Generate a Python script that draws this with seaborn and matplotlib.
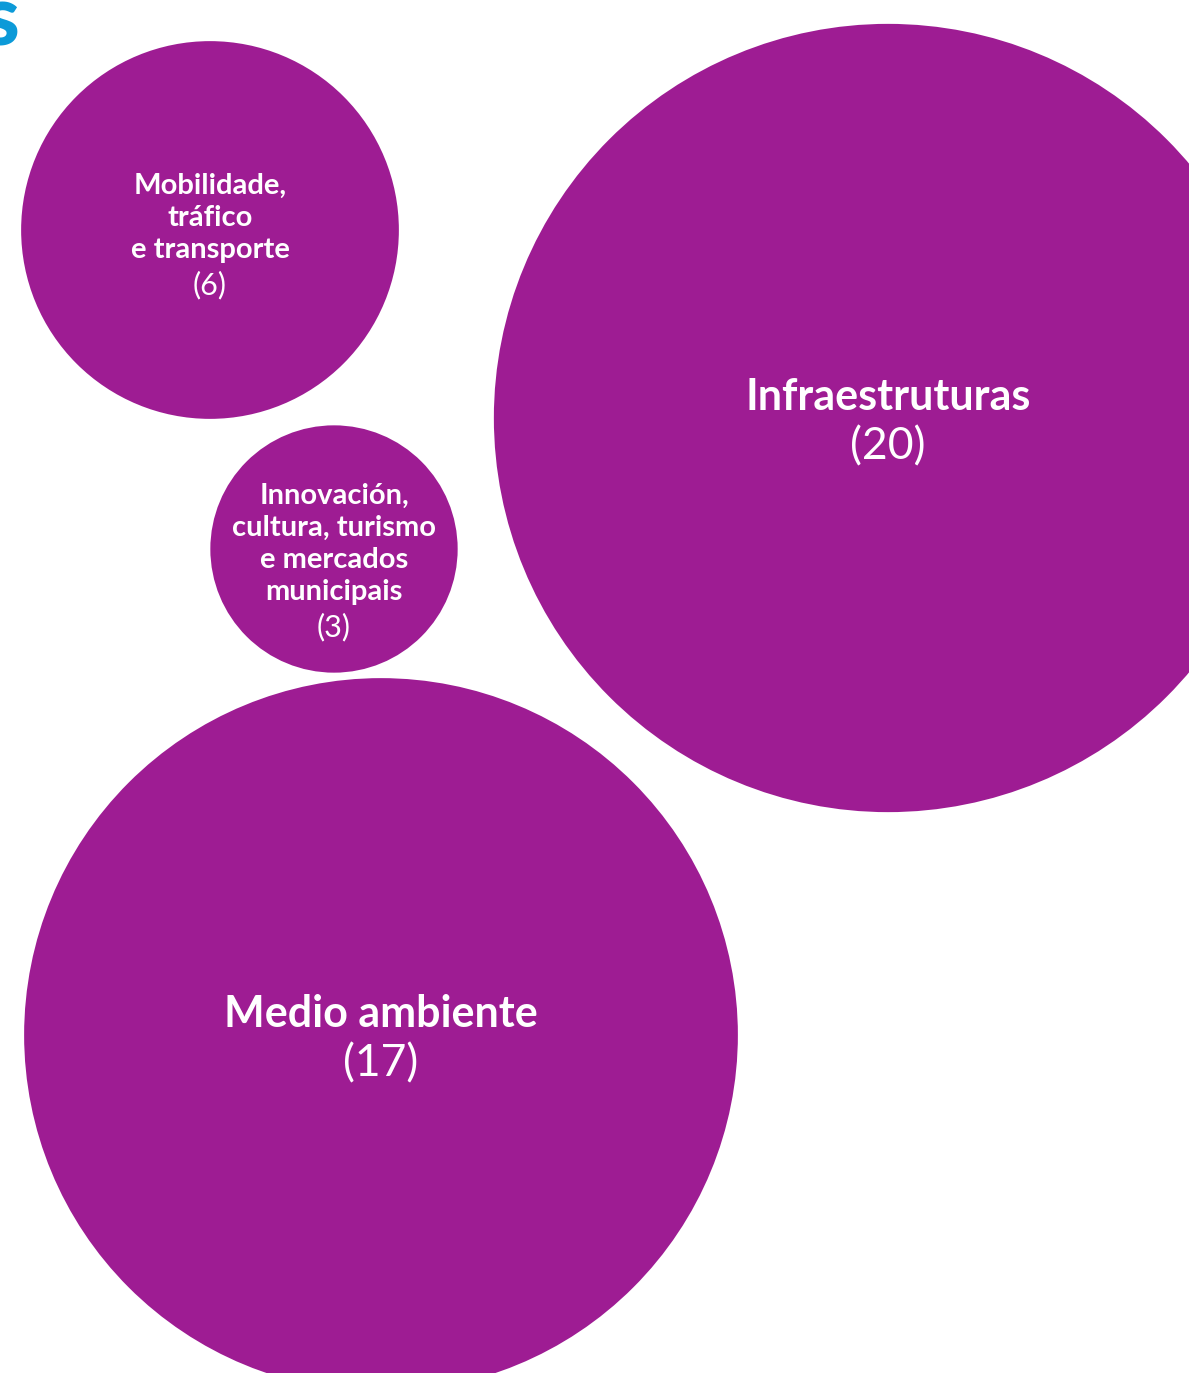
"""
Burbullas de propostas por area tematica
"""

import matplotlib.pyplot as plt
from matplotlib.patches import Circle
import seaborn as sns

# Datos
areas = ['Mobilidade,\ntráfico\ne transporte',
         'Innovación,\ncultura, turismo\ne mercados\nmunicipais',
         'Infraestruturas',
         'Medio ambiente']
propostas = [6, 3, 20, 17]

# Disposicion das burbullas (centros en pixeles da figura)
centros = [(210, 230), (334, 549), (888, 418), (381, 1035)]

# Escala de radio: r = k * v^p
K_RADIO = 63.2
P_RADIO = 0.611

MORADO = '#9E1C93'
AZUL = '#0C9AD8'
W, H = 1189, 1373

sns.set_style("white")
plt.rcParams['font.family'] = ['Lato', 'DejaVu Sans']

fig = plt.figure(figsize=(W / 100, H / 100), dpi=100)
ax = fig.add_axes([0, 0, 1, 1])
ax.set_xlim(0, W)
ax.set_ylim(H, 0)
ax.set_aspect('equal')
ax.axis('off')

for nome, valor, (cx, cy) in zip(areas, propostas, centros):
    r = K_RADIO * valor ** P_RADIO
    ax.add_patch(Circle((cx, cy), r, facecolor=MORADO, edgecolor='none'))

    liñas = nome.split('\n')
    grande = len(liñas) == 1
    fs = 31 if grande else 21
    lh = 50 if grande else 32
    n = len(liñas) + 1
    off = 4 if n < 5 else 11
    for i, txt in enumerate(liñas):
        y = cy + (i - (n - 1) / 2) * lh + off
        ax.text(cx, y, txt, ha='center', va='center', color='white',
                fontsize=fs, fontweight='bold')
    y = cy + ((n - 1) / 2) * lh + off + (3 if not grande else 0)
    ax.text(cx, y, f'({valor})', ha='center', va='center', color='white',
            fontsize=fs + 1, fontweight='normal')

# Fragmento do titulo recortado
ax.text(19, 46, 's', ha='right', va='baseline', color=AZUL,
        fontsize=60, fontweight='black')

plt.savefig('out.png', dpi=100, facecolor='white')
